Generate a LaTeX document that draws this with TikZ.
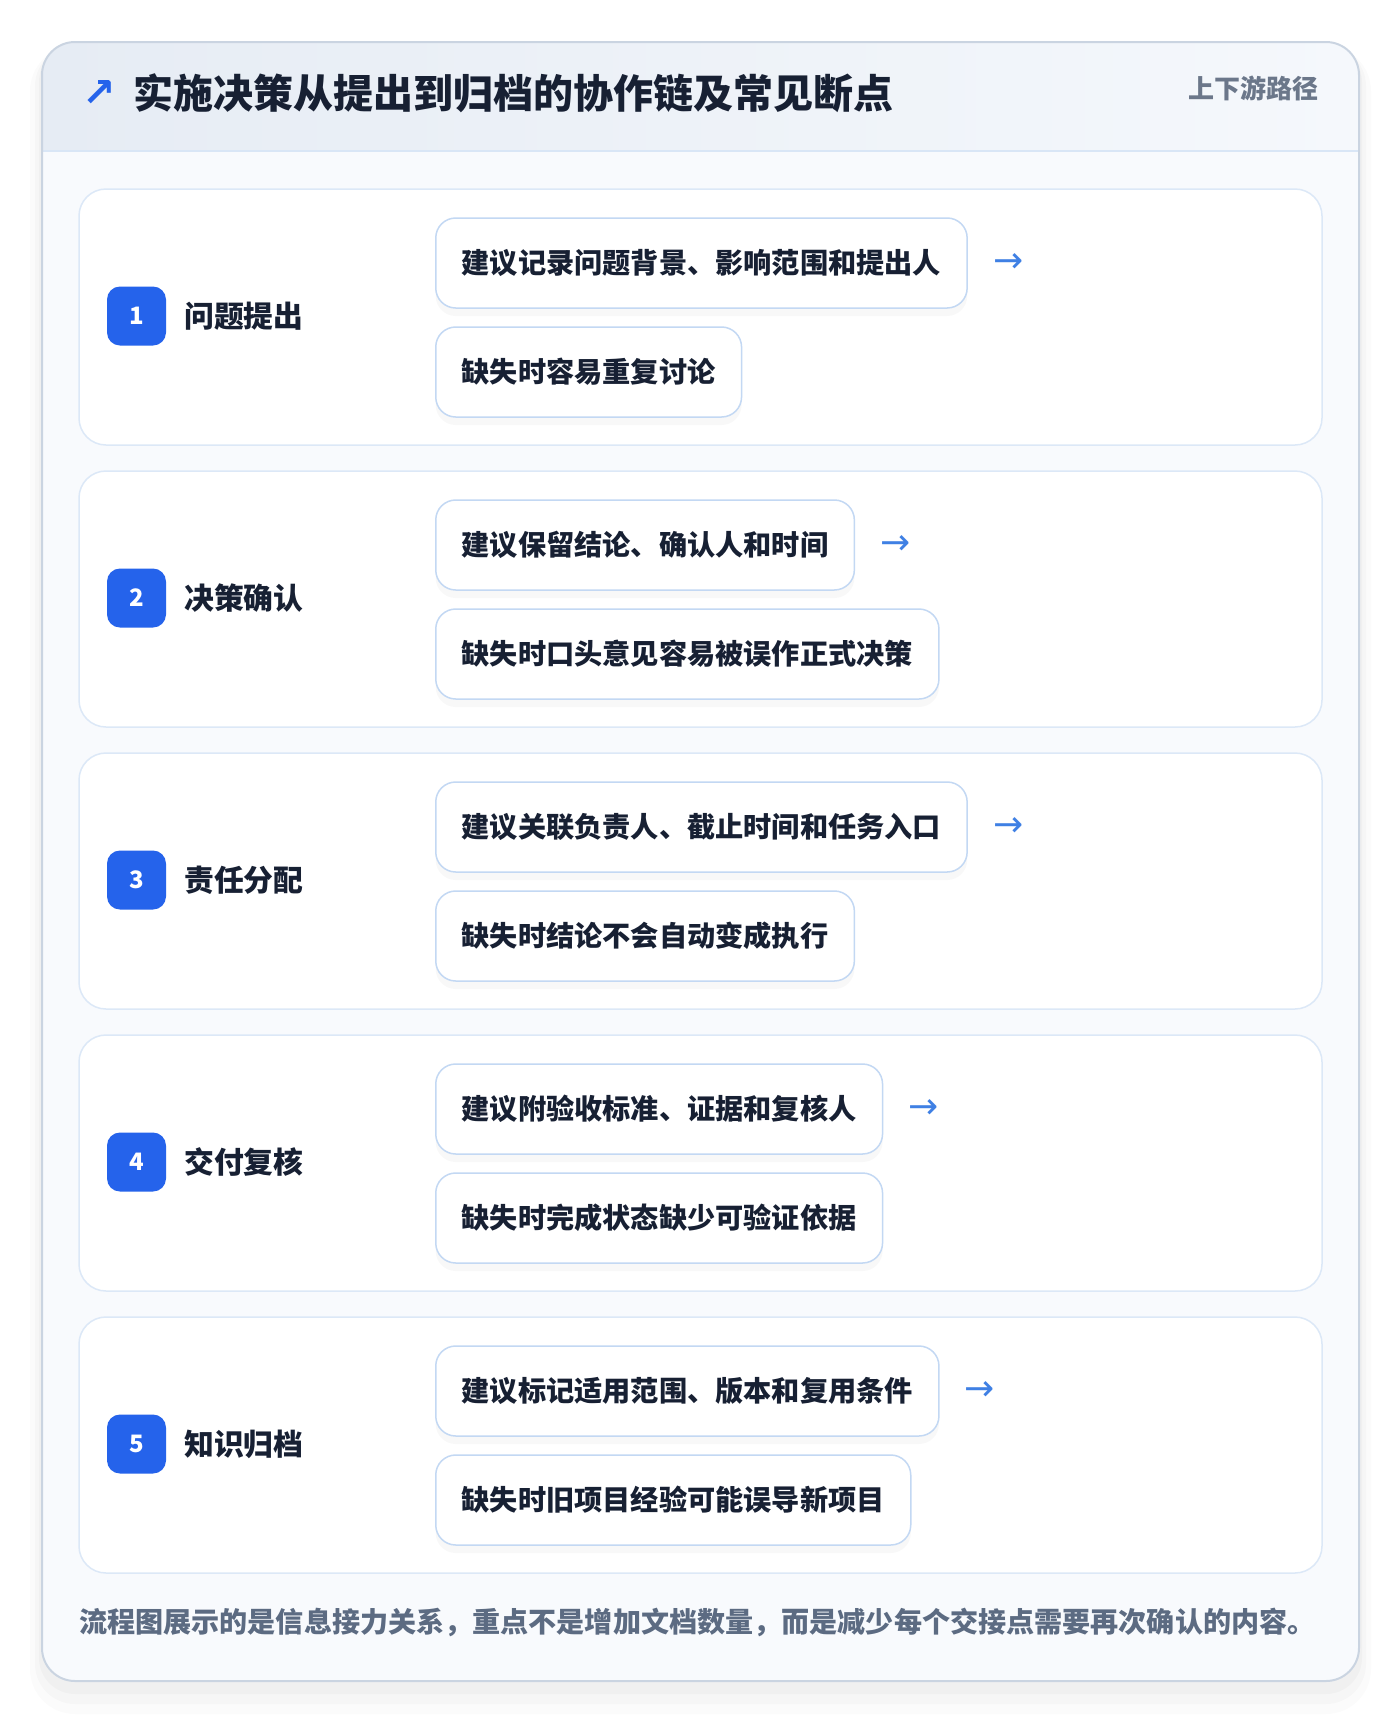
\documentclass[tikz,border=0pt]{standalone}
\usepackage{fontspec}
\setmainfont{Noto Sans CJK SC}
\newfontfamily\symfont{DejaVu Sans}
\usetikzlibrary{positioning,shadows}
\definecolor{pagebg}{HTML}{FFFFFF}
\definecolor{bodybg}{HTML}{F8FAFD}
\definecolor{cardline}{HTML}{CAD4E1}
\definecolor{headl}{HTML}{E6ECF4}
\definecolor{headr}{HTML}{F5F8FC}
\definecolor{headline}{HTML}{D9E6F6}
\definecolor{panelline}{HTML}{DCE8F7}
\definecolor{boxline}{HTML}{C3D8F3}
\definecolor{badgeblue}{HTML}{2563EB}
\definecolor{arrowblue}{HTML}{3F80E4}
\definecolor{inkdark}{HTML}{172033}
\definecolor{subgrey}{HTML}{6B778A}
\definecolor{notegrey}{HTML}{5C6B82}
\tikzset{
  % one white row per stage
  panel/.style={draw=panelline, line width=1.5pt, fill=white, rounded corners=27pt},
  badge/.style={fill=badgeblue, rounded corners=13pt, minimum width=59pt, minimum height=59pt,
    inner sep=0pt, text=white, font=\fontsize{24}{24}\selectfont\bfseries},
  steplabel/.style={anchor=west, inner sep=0pt, text=inkdark, font=\fontsize{29.8}{30}\selectfont\bfseries},
  % advice and risk boxes
  notebox/.style={draw=boxline, line width=1.5pt, fill=white, rounded corners=20pt, anchor=west,
    minimum height=90pt, inner xsep=26pt, inner ysep=0pt, text=inkdark,
    font=\fontsize{28.2}{29}\selectfont\bfseries,
    drop shadow={opacity=0.05, shadow xshift=0pt, shadow yshift=-8pt}},
  nextarrow/.style={inner sep=0pt, text=arrowblue, font=\symfont\fontsize{36}{36}\selectfont},
}
\begin{document}
\begin{tikzpicture}[x=1pt,y=-1pt]
            \useasboundingbox (0,0) rectangle (1400,1722);
            \fill[pagebg] (0,0) rectangle (1400,1722);

            % soft shadow round the card
            \fill[black, opacity=0.015, rounded corners=45pt] (30,46) rectangle (1371,1714);
            \fill[black, opacity=0.02, rounded corners=40pt] (35,46) rectangle (1366,1704);
            \fill[black, opacity=0.025, rounded corners=36pt] (39,46) rectangle (1362,1694);

            \draw[fill=bodybg, draw=none, rounded corners=33pt] (42,42) rectangle (1359,1681);
            \begin{scope}
              \clip[rounded corners=33pt] (42,42) rectangle (1359,1681);
              \shade[left color=headl, right color=headr] (42,42) rectangle (1359,151);
            \end{scope}
            \draw[headline, line width=1.5pt] (42,151) -- (1359,151);
            \draw[cardline, line width=2pt, rounded corners=33pt] (42,42) rectangle (1359,1681);

            \node[inner sep=0pt, text=badgeblue, font=\symfont\bfseries\fontsize{40}{40}\selectfont] (mark) at (99,93) {↗};
            \node[anchor=west, inner sep=0pt, text=inkdark, font=\fontsize{40}{40}\selectfont\bfseries] (title) at (133,93) {实施决策从提出到归档的协作链及常见断点};
            \node[anchor=east, inner sep=0pt, text=subgrey, font=\fontsize{26}{26}\selectfont\bfseries] (route) at (1319,88) {上下游路径};

            % stage 1
            \draw[panel] (79,189) rectangle (1322,445);
            \node[badge] (badge1) at (136.5,316) {1};
            \node[steplabel] (stage1) at (184,316) {问题提出};
            \node[notebox] (advice1) at (435,263) {建议记录问题背景、影响范围和提出人};
            \node[notebox] (miss1) at (435,372) {缺失时容易重复讨论};
            \node[nextarrow, right=25pt of advice1] (arrow1) {→};

            % stage 2
            \draw[panel] (79,471) rectangle (1322,727);
            \node[badge] (badge2) at (136.5,598) {2};
            \node[steplabel] (stage2) at (184,598) {决策确认};
            \node[notebox] (advice2) at (435,545) {建议保留结论、确认人和时间};
            \node[notebox] (miss2) at (435,654) {缺失时口头意见容易被误作正式决策};
            \node[nextarrow, right=25pt of advice2] (arrow2) {→};

            % stage 3
            \draw[panel] (79,753) rectangle (1322,1009);
            \node[badge] (badge3) at (136.5,880) {3};
            \node[steplabel] (stage3) at (184,880) {责任分配};
            \node[notebox] (advice3) at (435,827) {建议关联负责人、截止时间和任务入口};
            \node[notebox] (miss3) at (435,936) {缺失时结论不会自动变成执行};
            \node[nextarrow, right=25pt of advice3] (arrow3) {→};

            % stage 4
            \draw[panel] (79,1035) rectangle (1322,1291);
            \node[badge] (badge4) at (136.5,1162) {4};
            \node[steplabel] (stage4) at (184,1162) {交付复核};
            \node[notebox] (advice4) at (435,1109) {建议附验收标准、证据和复核人};
            \node[notebox] (miss4) at (435,1218) {缺失时完成状态缺少可验证依据};
            \node[nextarrow, right=25pt of advice4] (arrow4) {→};

            % stage 5
            \draw[panel] (79,1317) rectangle (1322,1573);
            \node[badge] (badge5) at (136.5,1444) {5};
            \node[steplabel] (stage5) at (184,1444) {知识归档};
            \node[notebox] (advice5) at (435,1391) {建议标记适用范围、版本和复用条件};
            \node[notebox] (miss5) at (435,1500) {缺失时旧项目经验可能误导新项目};
            \node[nextarrow, right=25pt of advice5] (arrow5) {→};

            \node[anchor=west, inner sep=0pt, text=notegrey, font=\fontsize{28.1}{29}\selectfont\bfseries] (note) at (79,1622) {流程图展示的是信息接力关系，重点不是增加文档数量，而是减少每个交接点需要再次确认的内容。};
        \end{tikzpicture}
\end{document}
